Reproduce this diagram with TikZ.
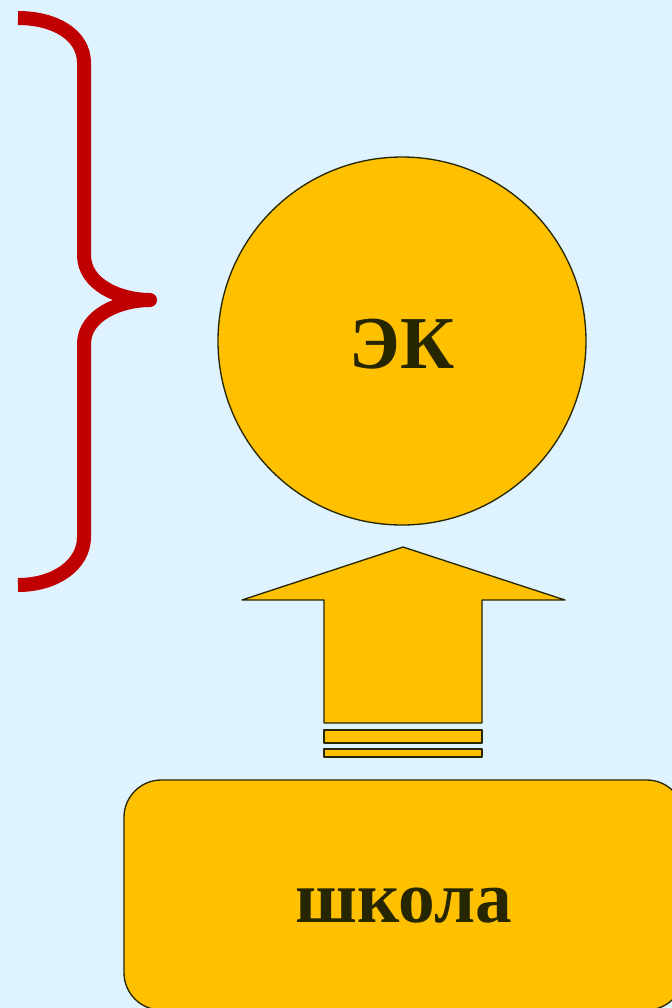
\documentclass[tikz,border=0pt]{standalone}
\usepackage{fontspec}
\setmainfont{Liberation Serif}
\definecolor{bgblue}{HTML}{DFF3FE}
\definecolor{gold}{HTML}{FFC000}
\definecolor{ink}{HTML}{262600}
\definecolor{bracered}{HTML}{C00000}
\tikzset{
  goldshape/.style={fill=gold, draw=ink, line width=1pt},
  bigtext/.style={text=ink, font=\bfseries\fontsize{#1}{#1}\selectfont, text height=40.5pt, text depth=0pt},
}
\begin{document}
\begin{tikzpicture}[x=0.75pt, y=-0.75pt, line join=round]
% фон
\fill[bgblue] (0,0) rectangle (672,1008);
\useasboundingbox (0,0) rectangle (672,1008);
\clip (0,0) rectangle (672,1008);

% скобка
\draw[bracered, line width=10.5pt, line cap=butt] (18,18) .. controls (55,18) and (84,35) .. (84,63) -- (84,255)
  .. controls (84,285) and (120,300) .. (150,300)
  .. controls (120,300) and (84,315) .. (84,344) -- (84,537)
  .. controls (84,565) and (55,585) .. (18,585);

% круг
\node[goldshape, circle, minimum size=276pt, inner sep=0pt, bigtext=56] (ek) at (402,341) {ЭК};

% стрелка
\draw[goldshape] (403,547) -- (565,600) -- (482,600) -- (482,723) -- (324,723) -- (324,600) -- (242,600) -- cycle;
\draw[goldshape] (324,730) rectangle (482,743);
\draw[goldshape] (324,749) rectangle (482,757);

% школа
\node[goldshape, rounded corners=28pt, minimum width=420pt, minimum height=172.5pt, bigtext=55] (school) at (404,895) {школа};
\end{tikzpicture}
\end{document}
